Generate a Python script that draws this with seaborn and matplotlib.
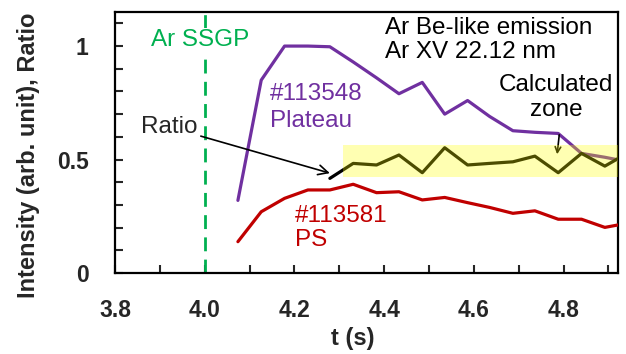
import numpy as np
import pandas as pd
import matplotlib
matplotlib.use("Agg")
import matplotlib.pyplot as plt
import seaborn as sns
from matplotlib.patches import Rectangle
from matplotlib.ticker import MultipleLocator

sns.set_style("white")
plt.rcParams['font.family'] = ['Liberation Sans', 'DejaVu Sans']

# ---- data ----
t = [4.074, 4.126, 4.178, 4.230, 4.279, 4.331, 4.383, 4.433, 4.485,
     4.535, 4.586, 4.635, 4.687, 4.736, 4.788, 4.840, 4.892, 4.944]
plateau = [0.32, 0.85, 1.00, 1.00, 0.997, 0.93, 0.86, 0.79, 0.84,
           0.70, 0.76, 0.69, 0.627, 0.62, 0.615, 0.527, 0.51, 0.49]
ps = [0.138, 0.270, 0.329, 0.366, 0.366, 0.391, 0.354, 0.358, 0.322,
      0.333, 0.310, 0.289, 0.263, 0.274, 0.237, 0.237, 0.201, 0.22]
ratio_t = t[4:]
ratio = [0.417, 0.483, 0.476, 0.520, 0.442, 0.552, 0.476, 0.483, 0.490,
         0.515, 0.442, 0.527, 0.471, 0.53]
ssgp_t = 4.0
zone_x = [4.308, 4.95]
zone_y = [0.424, 0.564]
xticks = [3.8, 4.0, 4.2, 4.4, 4.6, 4.8]
xticklabels = ["3.8", "4.0", "4.2", "4.4", "4.6", "4.8"]
yticks = [0, 0.5, 1]
yticklabels = ["0", "0.5", "1"]

purple = "#7030A0"
red = "#C00000"
green = "#00B050"

df_pl = pd.DataFrame({"t": t, "v": plateau})
df_ps = pd.DataFrame({"t": t, "v": ps})
df_r = pd.DataFrame({"t": ratio_t, "v": ratio})

fig = plt.figure(figsize=(6.26, 3.54), dpi=100)
ax = fig.add_axes([0.1837, 0.2288, 0.987 - 0.1837, 0.966 - 0.2288])

ax.axvline(ssgp_t, color=green, lw=2, dashes=(5, 3), zorder=1)
sns.lineplot(data=df_pl, x="t", y="v", ax=ax, color=purple, lw=2.3, zorder=3)
sns.lineplot(data=df_ps, x="t", y="v", ax=ax, color=red, lw=2.3, zorder=3)
sns.lineplot(data=df_r, x="t", y="v", ax=ax, color="black", lw=2.3, zorder=3)

ax.add_patch(Rectangle((zone_x[0], zone_y[0]), zone_x[1] - zone_x[0],
                       zone_y[1] - zone_y[0], facecolor="#FFFF00",
                       alpha=0.3, edgecolor="none", zorder=4))

ax.set_xlim(3.8, 4.921)
ax.set_ylim(0, 1.15)
ax.set_xticks(xticks)
ax.set_xticklabels(xticklabels)
ax.set_yticks(yticks)
ax.set_yticklabels(yticklabels)
ax.xaxis.set_minor_locator(MultipleLocator(0.1))
ax.yaxis.set_minor_locator(MultipleLocator(0.1))
ax.tick_params(which="both", direction="in", length=6, width=1.5,
               bottom=True, left=True, top=False, right=False)
ax.tick_params(axis="x", which="major", pad=19, labelsize=16.5)
ax.tick_params(axis="y", which="major", pad=19, labelsize=16.5)
for lab in ax.get_xticklabels() + ax.get_yticklabels():
    lab.set_fontweight("bold")
for s in ax.spines.values():
    s.set_color("black")
    s.set_linewidth(1.6)

ax.set_xlabel("t (s)", fontsize=17, fontweight="bold")
ax.set_ylabel("Intensity (arb. unit), Ratio", fontsize=17, fontweight="bold")
ax.xaxis.set_label_coords(0.473, -0.205)
ax.yaxis.set_label_coords(-0.150, 0.452)

fs = 17.5
ax.text(3.99, 1.026, "Ar SSGP", color=green, fontsize=fs, ha="center",
        va="center", zorder=5,
        bbox=dict(facecolor="white", edgecolor="none", pad=1))
ax.text(4.403, 1.027, "Ar Be-like emission\nAr XV 22.12 nm", color="black",
        fontsize=fs, ha="left", va="center", linespacing=1.13)
ax.text(4.145, 0.729, "#113548\nPlateau", color=purple, fontsize=fs,
        ha="left", va="center", linespacing=1.27)
ax.text(4.201, 0.20, "#113581\nPS", color=red, fontsize=fs,
        ha="left", va="center", linespacing=1.13)
ax.text(4.783, 0.773, "Calculated\nzone", color="black", fontsize=fs,
        ha="center", va="center", linespacing=1.17)
ax.annotate("", xy=(4.785, 0.511), xytext=(4.791, 0.621),
            arrowprops=dict(arrowstyle="->", color="black", lw=1.2))
ax.annotate("Ratio", xy=(4.279, 0.44), xytext=(3.984, 0.643),
            fontsize=fs, ha="right", va="center",
            arrowprops=dict(arrowstyle="->", color="black", lw=1.2,
                            shrinkA=0, shrinkB=0))

fig.savefig("out.png", dpi=100)
